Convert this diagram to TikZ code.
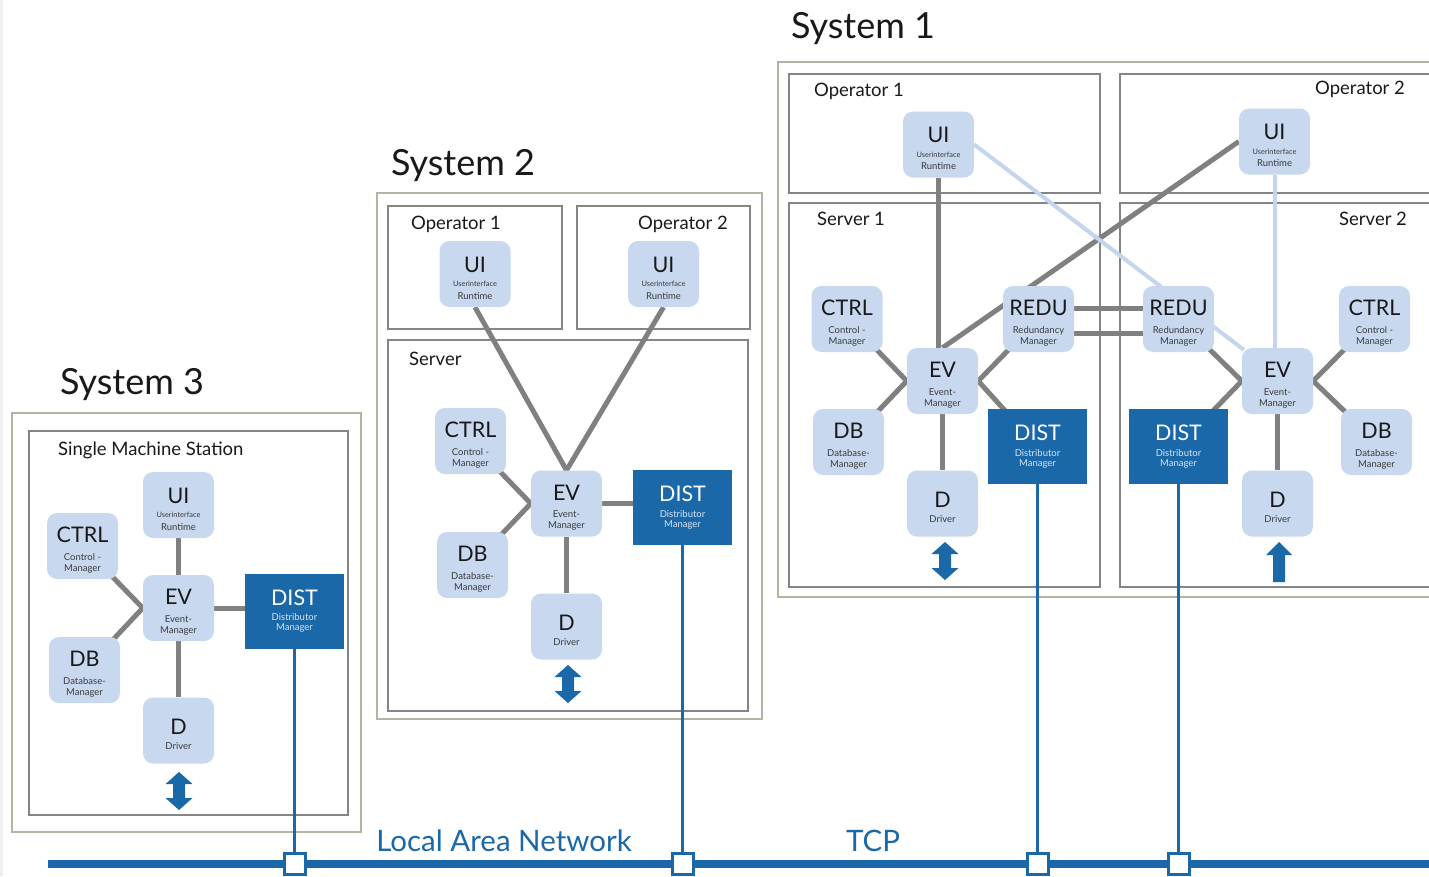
\documentclass[tikz,border=0pt]{standalone}
\usepackage{fontspec}
\setmainfont{Lato}
\usetikzlibrary{calc}

\definecolor{boxfill}{HTML}{C8D9EF}
\definecolor{netblue}{HTML}{1B68A8}
\definecolor{wiregray}{HTML}{808080}
\definecolor{softwire}{HTML}{C3D6EE}
\definecolor{sysframe}{HTML}{B4B4A0}
\definecolor{hostframe}{HTML}{858585}
\definecolor{subtext}{HTML}{3A3A3A}
\definecolor{disttext}{HTML}{D6E4F2}

\pgfdeclarelayer{paper}
\pgfdeclarelayer{frames}
\pgfdeclarelayer{wires}
\pgfsetlayers{paper,frames,wires,main}

% label pieces inside the component boxes
\newcommand{\mainlbl}[1]{{\fontsize{21.5}{24}\selectfont\rule{0pt}{24pt}#1}}
\newcommand{\distlbl}[1]{{\fontsize{21.5}{24}\selectfont #1}}
\newcommand{\sublbl}[1]{{\fontsize{9.5}{11.5}\selectfont\color{subtext}#1}}
\newcommand{\tinylbl}[1]{{\fontsize{7.4}{9}\selectfont\color{subtext}#1}}
\newcommand{\distsub}[1]{{\fontsize{9.5}{11.5}\selectfont\color{disttext}#1}}

\newcommand{\mgr}[3]{\mainlbl{#1}\\[5.8pt]\sublbl{#2}\\[-0.5pt]\sublbl{#3}}
\newcommand{\uilbl}{\mainlbl{UI}\\[3pt]\tinylbl{Userinterface}\\[1pt]\sublbl{Runtime}}
\newcommand{\drvlbl}{\mainlbl{D}\\[3.5pt]\sublbl{Driver}}
\newcommand{\dstlbl}{\distlbl{DIST}\\[4pt]\distsub{Distributor}\\[-1.5pt]\distsub{Manager}}

\tikzset{
  comp/.style={fill=boxfill, rounded corners=10pt, minimum width=71pt,
    minimum height=66pt, inner sep=0pt, align=center,
    font=\fontsize{9.5}{11.5}\selectfont, text=black!90},
  distbox/.style={fill=netblue, minimum width=99pt, minimum height=75pt,
    inner sep=0pt, align=center, font=\fontsize{9.5}{11.5}\selectfont, text=white},
  wire/.style={draw=wiregray, line width=5pt},
  softlink/.style={draw=softwire, line width=4pt},
  netlink/.style={draw=netblue, line width=3.8pt},
  tap/.style={draw=netblue, fill=white, line width=3pt, minimum size=21pt, inner sep=0pt},
  sysbox/.style={draw=sysframe, line width=2.5pt},
  hostbox/.style={draw=hostframe, line width=2pt},
  systitle/.style={font=\fontsize{36}{40}\selectfont, text=black!90},
  hostlbl/.style={font=\fontsize{18.5}{21}\selectfont, text=black!90, inner sep=0pt},
  netlbl/.style={font=\fontsize{29.5}{33}\selectfont, text=netblue},
  updown/.pic={\fill[netblue] (0,-19) -- (13.5,-7) -- (6,-7) -- (6,7) -- (13.5,7)
      -- (0,19) -- (-13.5,7) -- (-6,7) -- (-6,-7) -- (-13.5,-7) -- cycle;},
  upward/.pic={\fill[netblue] (0,-20) -- (13,-7) -- (6,-7) -- (6,20) -- (-6,20)
      -- (-6,-7) -- (-13,-7) -- cycle;},
}

\begin{document}
\begin{tikzpicture}[x=1pt, y=-1pt]
\clip (0,0) rectangle (1429,876);
\begin{pgfonlayer}{paper}
  \fill[white] (0,0) rectangle (1429,876);
  \fill[black!6] (0,0) rectangle (3,876);
\end{pgfonlayer}

% ---------- frames ----------
\begin{pgfonlayer}{frames}
  % System 3
  \draw[sysbox] (12,413) rectangle (361,832);
  \draw[hostbox] (29,431) rectangle (348,815);
  % System 2
  \draw[sysbox] (377,193) rectangle (762,719);
  \draw[hostbox] (388,206) rectangle (562,329);
  \draw[hostbox] (577,206) rectangle (750,329);
  \draw[hostbox] (388,340) rectangle (748,711);
  % System 1
  \draw[sysbox] (778,62) rectangle (1445,597);
  \draw[hostbox] (789,74) rectangle (1100,193);
  \draw[hostbox] (1120,74) rectangle (1445,193);
  \draw[hostbox] (789,203) rectangle (1100,587);
  \draw[hostbox] (1120,203) rectangle (1445,587);
\end{pgfonlayer}

% ---------- titles and frame labels ----------
\node[systitle] (t3) at (132,385) {System 3};
\node[systitle] (t2) at (463,166) {System 2};
\node[systitle] (t1) at (863,29) {System 1};

\node[hostlbl, anchor=west] (l3) at (58,450.5) {Single Machine Station};
\node[hostlbl, anchor=west] (l2a) at (411,224.5) {Operator 1};
\node[hostlbl, anchor=west] (l2b) at (638,224.5) {Operator 2};
\node[hostlbl, anchor=west] (l2c) at (409,358.5) {Server};
\node[hostlbl, anchor=west] (l1a) at (814,91.5) {Operator 1};
\node[hostlbl, anchor=west] (l1b) at (1315,89.5) {Operator 2};
\node[hostlbl, anchor=west] (l1c) at (817,218.5) {Server 1};
\node[hostlbl, anchor=west] (l1d) at (1339,218.5) {Server 2};

% ---------- System 3: single machine ----------
\node[comp] (s3ui) at (178.5,505) {\uilbl};
\node[comp] (s3ctrl) at (82.5,546) {\mgr{CTRL}{Control -}{Manager}};
\node[comp] (s3ev) at (178.5,608) {\mgr{EV}{Event-}{Manager}};
\node[comp] (s3db) at (84.5,670) {\mgr{DB}{Database-}{Manager}};
\node[comp] (s3d) at (178.5,730.5) {\drvlbl};
\node[distbox] (s3dist) at (294.5,611) {\dstlbl};
\pic at (179,791) {updown};

% ---------- System 2 ----------
\node[comp] (s2uia) at (475,274) {\uilbl};
\node[comp] (s2uib) at (663.5,274) {\uilbl};
\node[comp] (s2ctrl) at (470.5,441) {\mgr{CTRL}{Control -}{Manager}};
\node[comp] (s2ev) at (566.5,503.5) {\mgr{EV}{Event-}{Manager}};
\node[comp] (s2db) at (472.5,565) {\mgr{DB}{Database-}{Manager}};
\node[comp] (s2d) at (566.5,626.5) {\drvlbl};
\node[distbox] (s2dist) at (682.5,507.5) {\dstlbl};
\pic at (568,684) {updown};

% ---------- System 1 ----------
\node[comp] (s1uia) at (938.5,144.5) {\uilbl};
\node[comp] (s1uib) at (1274.5,141.5) {\uilbl};
\node[comp] (s1ctrla) at (847,319) {\mgr{CTRL}{Control -}{Manager}};
\node[comp] (s1redua) at (1038.5,319) {\mgr{REDU}{Redundancy}{Manager}};
\node[comp] (s1eva) at (942.5,381) {\mgr{EV}{Event-}{Manager}};
\node[comp] (s1dba) at (848.5,442) {\mgr{DB}{Database-}{Manager}};
\node[distbox] (s1dista) at (1037.5,446.5) {\dstlbl};
\node[comp] (s1da) at (942.5,503.5) {\drvlbl};
\pic at (945,561) {updown};

\node[comp] (s1redub) at (1178.5,319) {\mgr{REDU}{Redundancy}{Manager}};
\node[comp] (s1ctrlb) at (1374.5,319) {\mgr{CTRL}{Control -}{Manager}};
\node[comp] (s1evb) at (1277.5,381) {\mgr{EV}{Event-}{Manager}};
\node[comp] (s1dbb) at (1376.5,442) {\mgr{DB}{Database-}{Manager}};
\node[distbox] (s1distb) at (1178.5,446.5) {\dstlbl};
\node[comp] (s1db) at (1277.5,503.5) {\drvlbl};
\pic at (1279,562) {upward};

% ---------- network ----------
\coordinate (lanw) at (48,864);
\coordinate (lane) at (1445,864);
\node[tap] (tap1) at (294.5,864) {};
\node[tap] (tap2) at (682.5,864) {};
\node[tap] (tap3) at (1037.5,864) {};
\node[tap] (tap4) at (1178.5,864) {};
\node[netlbl] (lan) at (504,841) {Local Area Network};
\node[netlbl] (tcp) at (873,841) {TCP};

% ---------- connectors ----------
\begin{pgfonlayer}{wires}
  \draw[netblue, line width=8pt] (lanw) -- (lane);
  \draw[netlink] (s3dist.south) -- (tap1.north);
  \draw[netlink] (s2dist.south) -- (tap2.north);
  \draw[netlink] (s1dista.south) -- (tap3.north);
  \draw[netlink] (s1distb.south) -- (tap4.north);

  % System 3
  \draw[wire] (s3ui) -- (s3ev);
  \draw[wire] (s3ev) -- (s3d);
  \draw[wire] (s3ctrl.center) -- (s3ev.west);
  \draw[wire] (s3db.center) -- (s3ev.west);
  \draw[wire] (s3ev.east) -- (s3ev.east -| s3dist.west);

  % System 2
  \draw[wire] (s2uia.south) -- (s2ev.north);
  \draw[wire] (s2uib.south) -- (s2ev.north);
  \draw[wire] (s2ctrl.center) -- (s2ev.west);
  \draw[wire] (s2db.center) -- (s2ev.west);
  \draw[wire] (s2ev) -- (s2d);
  \draw[wire] (s2ev.east) -- (s2ev.east -| s2dist.west);

  % System 1, server 1
  \draw[wire] (s1uia.south) -- (s1uia.south |- s1eva.north);
  \draw[wire] (s1uib.west) -- (s1eva.north);
  \draw[wire] (s1ctrla.center) -- (s1eva.west);
  \draw[wire] (s1dba.center) -- (s1eva.west);
  \draw[wire] (s1redua.center) -- (s1eva.east);
  \draw[wire] (s1dista.center) -- (s1eva.east);
  \draw[wire] (s1eva) -- (s1da);

  % redundancy pair
  \draw[wire] ([yshift=11pt]s1redua.east) -- ([yshift=11pt]s1redub.west);
  \draw[wire] ([yshift=-14pt]s1redua.east) -- ([yshift=-14pt]s1redub.west);

  % System 1, server 2
  \draw[softlink] (s1uia.east) -- ([xshift=2pt,yshift=-2pt]s1evb.north west);
  \draw[softlink] (s1uib.south) -- (s1uib.south |- s1evb.north);
  \draw[wire] (s1redub.center) -- (s1evb.west);
  \draw[wire] (s1distb.center) -- (s1evb.west);
  \draw[wire] (s1ctrlb.center) -- (s1evb.east);
  \draw[wire] (s1dbb.center) -- (s1evb.east);
  \draw[wire] (s1evb) -- (s1db);
\end{pgfonlayer}
\end{tikzpicture}
\end{document}
